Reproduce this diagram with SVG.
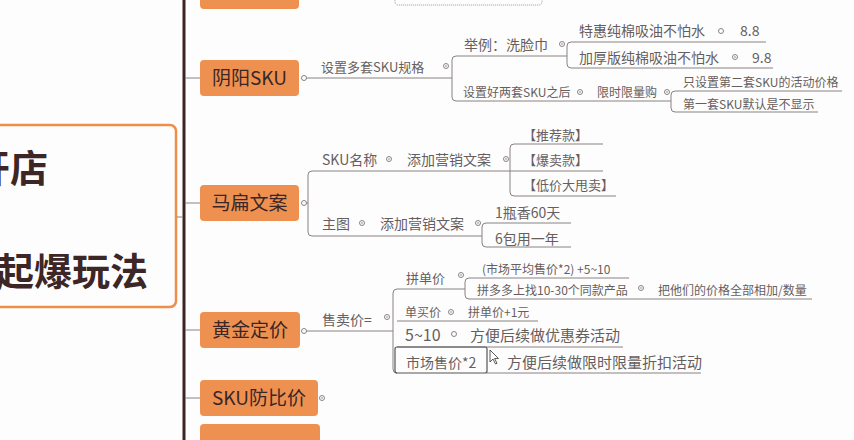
<svg xmlns="http://www.w3.org/2000/svg" width="854" height="440" viewBox="0 0 854 440">
<style>
.bg{fill:#fdfdfd}
.node rect{fill:#ee9150;stroke:none}
.nt{font-family:"Noto Sans CJK SC","Noto Sans",sans-serif;font-size:19px;fill:#3a2626;text-anchor:middle}
.st{font-family:"Noto Sans CJK SC","Noto Sans",sans-serif;fill:#675e5e}
.ln{stroke:#8a8282;stroke-width:1;fill:none}
.cir{fill:#fdfdfd;stroke:#8a8282;stroke-width:1}
.dot{fill:#8a8282}
.root{font-family:"Noto Sans CJK SC","Noto Sans",sans-serif;font-size:38px;font-weight:bold;fill:#3d2626;text-anchor:end}
</style>
<rect class="bg" x="0" y="0" width="854" height="440"/>

<!-- root -->
<g id="root">
<rect x="-20" y="125" width="196" height="182" rx="6" fill="#fdfdfd" stroke="#ef8e4a" stroke-width="2.5"/>
<text class="root" x="48" y="182">开店</text>
<text class="root" x="148" y="285">起爆玩法</text>
</g>

<!-- connectors -->
<g id="connectors">
<line x1="184" y1="0" x2="184" y2="440" stroke="#3d2424" stroke-width="3"/>
<line class="ln" x1="177" y1="217" x2="183" y2="217"/>
<line class="ln" x1="185" y1="78" x2="200" y2="78"/>
<line class="ln" x1="185" y1="203" x2="200" y2="203"/>
<line class="ln" x1="185" y1="330" x2="200" y2="330"/>
<line class="ln" x1="185" y1="398" x2="200" y2="398"/>

<!-- 阴阳SKU branch -->
<line class="ln" x1="304" y1="78" x2="452" y2="78"/>
<path class="ln" d="M456 56 Q452 56 452 60 V97 Q452 101 456 101"/>
<line class="ln" x1="456" y1="56" x2="567" y2="56"/>
<line class="ln" x1="456" y1="101" x2="671" y2="101"/>
<path class="ln" d="M571 42 Q567 42 567 46 V64 Q567 68 571 68"/>
<line class="ln" x1="571" y1="42" x2="766" y2="42"/>
<line class="ln" x1="571" y1="68" x2="773" y2="68"/>
<path class="ln" d="M675 91 Q671 91 671 95 V108 Q671 112 675 112"/>
<line class="ln" x1="675" y1="91" x2="842" y2="91"/>
<line class="ln" x1="675" y1="112" x2="818" y2="112"/>

<!-- 马扁文案 branch -->
<line class="ln" x1="304" y1="203" x2="308" y2="203"/>
<path class="ln" d="M312 171 Q308 171 308 175 V232 Q308 236 312 236"/>
<line class="ln" x1="312" y1="171" x2="603" y2="171"/>
<path class="ln" d="M514 144 Q510 144 510 148 V192 Q510 196 514 196"/>
<line class="ln" x1="514" y1="144" x2="603" y2="144"/>
<line class="ln" x1="514" y1="196" x2="616" y2="196"/>
<line class="ln" x1="312" y1="236" x2="482" y2="236"/>
<path class="ln" d="M486 223 Q482 223 482 227 V243 Q482 247 486 247"/>
<line class="ln" x1="486" y1="223" x2="571" y2="223"/>
<line class="ln" x1="486" y1="247" x2="571" y2="247"/>

<!-- 黄金定价 branch -->
<line class="ln" x1="304" y1="331" x2="393" y2="331"/>
<path class="ln" d="M397 289 Q393 289 393 293 V369 Q393 373 397 373"/>
<line class="ln" x1="397" y1="289" x2="465" y2="289"/>
<path class="ln" d="M469 278 Q465 278 465 282 V295 Q465 299 469 299"/>
<line class="ln" x1="469" y1="278" x2="629" y2="278"/>
<line class="ln" x1="469" y1="299" x2="812" y2="299"/>
<line class="ln" x1="397" y1="321" x2="538" y2="321"/>
<line class="ln" x1="397" y1="347" x2="623" y2="347"/>
<line class="ln" x1="487" y1="373" x2="701" y2="373"/>

<!-- collapse circles -->
<circle class="cir" cx="304" cy="78" r="2.5"/>
<circle class="cir" cx="446" cy="66" r="2.5"/><circle class="dot" cx="446" cy="66" r="0.8"/>
<circle class="cir" cx="562" cy="44" r="2.5"/><circle class="dot" cx="562" cy="44" r="0.8"/>
<circle class="cir" cx="721" cy="31" r="2.5"/>
<circle class="cir" cx="735" cy="57" r="2.5"/><circle class="dot" cx="735" cy="57" r="0.8"/>
<circle class="cir" cx="580" cy="92" r="2.5"/><circle class="dot" cx="580" cy="92" r="0.8"/>
<circle class="cir" cx="667" cy="92" r="2.5"/><circle class="dot" cx="667" cy="92" r="0.8"/>
<circle class="cir" cx="304" cy="203" r="2.5"/>
<circle class="cir" cx="389" cy="159" r="2.5"/><circle class="dot" cx="389" cy="159" r="0.8"/>
<circle class="cir" cx="506" cy="159" r="2.5"/><circle class="dot" cx="506" cy="159" r="0.8"/>
<circle class="cir" cx="362" cy="223" r="2.5"/><circle class="dot" cx="362" cy="223" r="0.8"/>
<circle class="cir" cx="478" cy="223" r="2.5"/><circle class="dot" cx="478" cy="223" r="0.8"/>
<circle class="cir" cx="304" cy="331" r="2.5"/>
<circle class="cir" cx="387" cy="317" r="2.5"/><circle class="dot" cx="387" cy="317" r="0.8"/>
<circle class="cir" cx="461" cy="275" r="2.5"/><circle class="dot" cx="461" cy="275" r="0.8"/>
<circle class="cir" cx="641" cy="288" r="2.5"/><circle class="dot" cx="641" cy="288" r="0.8"/>
<circle class="cir" cx="451" cy="312" r="2.5"/><circle class="dot" cx="451" cy="312" r="0.8"/>
<circle class="cir" cx="454" cy="334" r="2.5"/>
<circle class="cir" cx="322" cy="398" r="2.5"/><circle class="dot" cx="322" cy="398" r="0.8"/>
</g>

<!-- top partial items -->
<g id="top-node" class="node"><rect x="200" y="-30" width="99" height="39" rx="4"/></g>
<g id="top-sub"><rect x="395" y="-20" width="147" height="25" rx="3" fill="none" stroke="#999" stroke-dasharray="1,1"/></g>

<g id="n-yinyang" class="node"><rect x="200" y="60" width="99" height="36" rx="4"/><text class="nt" x="249.5" y="85">阴阳SKU</text></g>
<g id="n-mabian" class="node"><rect x="200" y="185" width="99" height="36" rx="4"/><text class="nt" x="249.5" y="210">马扁文案</text></g>
<g id="n-huangjin" class="node"><rect x="200" y="312" width="100" height="36" rx="4"/><text class="nt" x="250" y="337">黄金定价</text></g>
<g id="n-skufang" class="node"><rect x="200" y="380" width="118" height="36" rx="4"/><text class="nt" x="259" y="405">SKU防比价</text></g>
<g id="n-bottom" class="node"><rect x="200" y="424" width="120" height="36" rx="4"/></g>

<!-- 阴阳SKU subtopics -->
<g id="s-shezhi"><text class="st" x="321" y="72" font-size="13">设置多套SKU规格</text></g>
<g id="s-juli"><text class="st" x="464" y="50" font-size="14">举例：洗脸巾</text></g>
<g id="s-tehui"><text class="st" x="579" y="36" font-size="14">特惠纯棉吸油不怕水</text></g>
<g id="s-88"><text class="st" x="740" y="36" font-size="14">8.8</text></g>
<g id="s-jiahou"><text class="st" x="579" y="63" font-size="14">加厚版纯棉吸油不怕水</text></g>
<g id="s-98"><text class="st" x="752" y="63" font-size="14">9.8</text></g>
<g id="s-liangtao"><text class="st" x="463" y="97" font-size="12">设置好两套SKU之后</text></g>
<g id="s-xianshi"><text class="st" x="597" y="97" font-size="12">限时限量购</text></g>
<g id="s-zhishe"><text class="st" x="683" y="87" font-size="12">只设置第二套SKU的活动价格</text></g>
<g id="s-diyi"><text class="st" x="683" y="109" font-size="12">第一套SKU默认是不显示</text></g>

<!-- 马扁文案 subtopics -->
<g id="s-skuname"><text class="st" x="322" y="165" font-size="14">SKU名称</text></g>
<g id="s-tianjia1"><text class="st" x="407" y="165" font-size="14">添加营销文案</text></g>
<g id="s-tuijian"><text class="st" x="523" y="140" font-size="13">【推荐款】</text></g>
<g id="s-baomai"><text class="st" x="523" y="165" font-size="13">【爆卖款】</text></g>
<g id="s-dijia"><text class="st" x="523" y="190" font-size="13">【低价大甩卖】</text></g>
<g id="s-zhutu"><text class="st" x="322" y="229" font-size="14">主图</text></g>
<g id="s-tianjia2"><text class="st" x="380" y="229" font-size="14">添加营销文案</text></g>
<g id="s-ping"><text class="st" x="495" y="218" font-size="14">1瓶香60天</text></g>
<g id="s-bao"><text class="st" x="495" y="244" font-size="14">6包用一年</text></g>

<!-- 黄金定价 subtopics -->
<g id="s-shoumai"><text class="st" x="322" y="325" font-size="14">售卖价=</text></g>
<g id="s-pindan"><text class="st" x="406" y="283" font-size="13">拼单价</text></g>
<g id="s-shichang"><text class="st" x="482" y="274" font-size="12">(市场平均售价*2) +5~10</text></g>
<g id="s-pdd"><text class="st" x="477" y="295" font-size="12">拼多多上找10-30个同款产品</text></g>
<g id="s-xiangjia"><text class="st" x="658" y="295" font-size="12">把他们的价格全部相加/数量</text></g>
<g id="s-danmai"><text class="st" x="405" y="317" font-size="12">单买价</text></g>
<g id="s-pindan1"><text class="st" x="468" y="317" font-size="12">拼单价+1元</text></g>
<g id="s-510"><text class="st" x="405" y="341" font-size="16">5~10</text></g>
<g id="s-youhui"><text class="st" x="470" y="341" font-size="15">方便后续做优惠券活动</text></g>
<g id="s-shichang2"><rect x="395" y="347" width="92" height="26" rx="2" fill="none" stroke="#555" stroke-width="1.2"/><text class="st" x="406" y="368" font-size="14">市场售价*2</text></g>
<g id="s-zhekou"><text class="st" x="507" y="368" font-size="15">方便后续做限时限量折扣活动</text></g>
<path d="M490 350 L490 362 L493 359 L495.5 364 L497 363.3 L494.6 358.5 L498.5 358.5 Z" fill="#fff" stroke="#333" stroke-width="0.8"/>
</svg>
